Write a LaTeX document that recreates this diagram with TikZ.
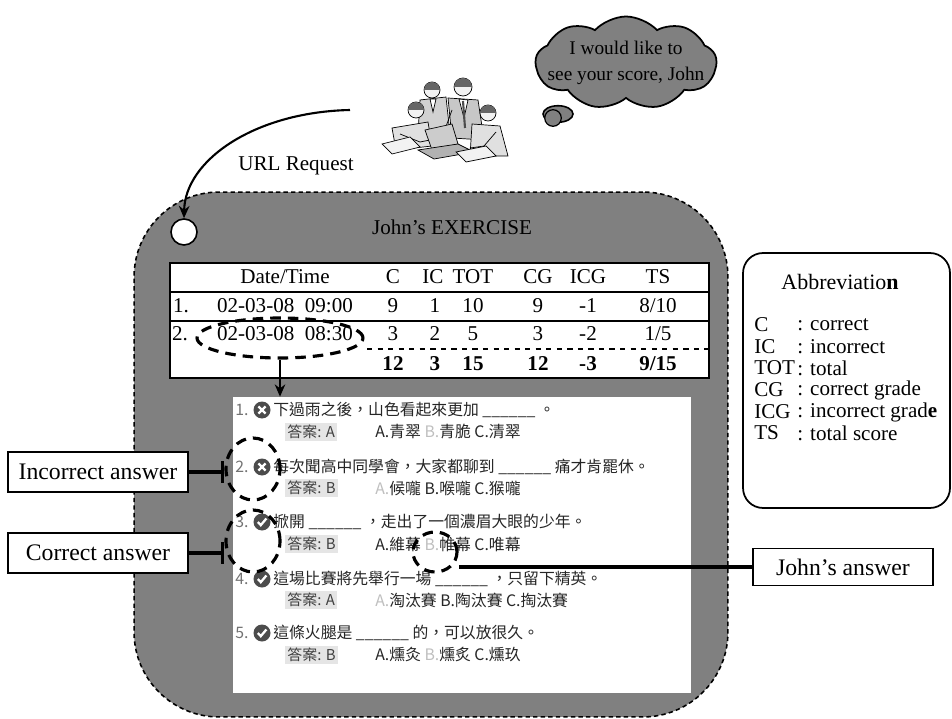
\documentclass[tikz,border=0pt]{standalone}
\usepackage{fontspec}
\setmainfont{Liberation Serif}
\newfontfamily\cjk{Noto Sans CJK TC}
\usepackage{tikz}
\usetikzlibrary{shapes.geometric,shapes.symbols,arrows.meta,positioning}

\begin{document}
\begin{tikzpicture}[x=0.02cm, y=-0.02cm,
    panel/.style={rectangle, rounded corners=1.7cm, draw=black, fill=black!50,
        dash pattern=on 2.5pt off 1.8pt, line width=0.9pt,
        minimum width=11.88cm, minimum height=10.5cm},
    cell/.style={font=\fontsize{12}{14}\selectfont, inner sep=0pt},
    sumcell/.style={font=\fontsize{12}{14}\selectfont\bfseries, inner sep=0pt},
    ring/.style={ellipse, draw=black, line width=1.8pt, dash pattern=on 6pt off 4pt, inner sep=0pt},
    tag/.style={rectangle, draw=black, fill=white, line width=0.8pt,
        minimum width=3.6cm, minimum height=0.8cm, font=\fontsize{13.5}{16}\selectfont},
    marker/.style={line width=2.4pt, -{Bar[width=12pt,line width=2pt]}},
    qtext/.style={anchor=west, font=\cjk\fontsize{9}{11}\selectfont, text=black!85, inner sep=0pt},
    qnum/.style={font=\cjk\fontsize{9}{11}\selectfont, text=black!55, inner sep=0pt},
    anslbl/.style={anchor=west, font=\cjk\fontsize{8.5}{10}\selectfont, text=black!75, fill=black!10, inner sep=1.2pt},
    xmark/.style={circle, fill=black!70, minimum size=0.34cm, inner sep=0pt,
        path picture={\draw[white, line width=1.3pt]
            (path picture bounding box.center) ++(-2pt,-2pt) -- ++(4pt,4pt)
            (path picture bounding box.center) ++(-2pt,2pt) -- ++(4pt,-4pt);}},
    okmark/.style={circle, fill=black!70, minimum size=0.34cm, inner sep=0pt,
        path picture={\draw[white, line width=1.3pt]
            (path picture bounding box.center) ++(-2.4pt,0pt) -- ++(1.7pt,-1.8pt) -- ++(3.2pt,3.8pt);}},
    legend/.style={anchor=west, inner sep=0pt, font=\fontsize{12}{14}\selectfont}
]
    \useasboundingbox (0,0) rectangle (952,719);

    % Exercise panel with the request entry point
    \node[panel] (panel) at (431,454.5) {};
    \node[font=\fontsize{12}{14}\selectfont] (title) at (452,227) {John's EXERCISE};
    \node[circle, draw=black, fill=white, line width=0.9pt, minimum size=0.52cm, inner sep=0pt] (urlin) at (184,232) {};

    % Speech cloud
    \node[cloud, cloud puffs=9, cloud puff arc=95, draw=black, fill=black!50, line width=1pt,
        minimum width=3.62cm, minimum height=1.86cm, inner sep=0pt] (bubble) at (626,63) {};
    \node[align=center, font=\fontsize{11}{15}\selectfont] (say) at (bubble) {I would like to\\see your score, John};
    \node[ellipse, draw=black, fill=black!50, line width=0.9pt, minimum width=0.6cm, minimum height=0.32cm] (puff1) at (558,114) {};
    \node[ellipse, draw=black, fill=black!50, line width=0.7pt, minimum width=0.3cm, minimum height=0.18cm] (puff2) at (553,118) {};

    % Group of people at the laptop
    \begin{scope}[line width=0.4pt]
        % man behind on the left
        \filldraw[fill=black!18] (420,100) -- (446,97) -- (450,134) -- (418,134) -- cycle;
        \filldraw[fill=white] (430,99) -- (436,99) -- (433,112) -- cycle;
        \filldraw[fill=black!5] (432,90) circle (0.16cm);
        \fill[black!60] (432,90) ++(-0.16cm,0) arc (180:0:0.16cm) -- cycle;
        % standing man with tie
        \filldraw[fill=black!22] (448,98) -- (478,100) -- (484,140) -- (452,138) -- cycle;
        \filldraw[fill=white] (459,99) -- (468,100) -- (464,118) -- cycle;
        \draw[line width=1.2pt, black!70] (463,101) -- (465,128);
        \draw (452,110) -- (444,132) -- (438,140);
        \filldraw[fill=black!5] (463,87) circle (0.18cm);
        \fill[black!60] (463,87) ++(-0.18cm,0) arc (180:0:0.18cm) -- cycle;
        % seated man on the left
        \filldraw[fill=black!12] (392,128) -- (428,122) -- (432,146) -- (396,150) -- cycle;
        \draw (400,134) -- (420,142) -- (430,140);
        \filldraw[fill=black!5] (416,110) circle (0.16cm);
        \fill[black!60] (416,110) ++(-0.16cm,0) arc (180:0:0.16cm) -- cycle;
        % seated man on the right
        \filldraw[fill=black!12] (472,124) -- (500,126) -- (508,156) -- (470,156) -- cycle;
        \draw (496,132) -- (484,146) -- (470,148);
        \filldraw[fill=black!5] (488,113) circle (0.16cm);
        \fill[black!60] (488,113) ++(-0.16cm,0) arc (180:0:0.16cm) -- cycle;
        % laptop and papers
        \filldraw[fill=black!20] (425,130) -- (452,124) -- (458,144) -- (432,150) -- cycle;
        \filldraw[fill=black!30] (418,150) -- (458,144) -- (474,152) -- (434,159) -- cycle;
        \filldraw[fill=black!5] (382,144) -- (410,137) -- (420,147) -- (392,154) -- cycle;
        \filldraw[fill=black!5] (456,152) -- (486,146) -- (496,156) -- (466,162) -- cycle;
    \end{scope}

    % URL request into the panel
    \coordinate (req) at (350,110);
    \draw[line width=1.2pt, -{Stealth[length=7pt,width=6pt]}] (req) .. controls (255,112) and (185,160) .. (urlin.north);
    \node[font=\fontsize{12}{14}\selectfont] (urllbl) at (296,166) {URL Request};

    % Score table
    \node[rectangle, draw=black, fill=white, line width=1.2pt, minimum width=10.78cm, minimum height=2.3cm] (tbl) at (439.5,320.5) {};
    \draw[line width=0.9pt] (tbl.west |- 0,292) -- (tbl.east |- 0,292);
    \draw[line width=0.9pt] (tbl.west |- 0,321) -- (tbl.east |- 0,321);
    \draw[line width=0.9pt, dashed] (367,349) -- (tbl.east |- 0,349);

    \node[cell] (hdate) at (285,277) {Date/Time};
    \node[cell] (hc) at (393,277) {C};
    \node[cell] (hic) at (433,277) {IC};
    \node[cell] (htot) at (473,277) {TOT};
    \node[cell] (hcg) at (538,277) {CG};
    \node[cell] (hicg) at (588,277) {ICG};
    \node[cell] (hts) at (658,277) {TS};

    \node[cell] (n1) at (181,306) {1.};
    \node[cell] (d1) at (285,306) {02-03-08\enspace 09:00};
    \node[cell] (n2) at (180,334) {2.};
    \node[cell] (d2) at (285,334) {02-03-08\enspace 08:30};
    \foreach \x/\a/\b/\s [count=\i] in {393/9/3/12, 435/1/2/3, 473/10/5/15, 538/9/3/12, 588/-1/-2/-3} {
        \node[cell] (r1-\i) at (\x,306) {\a};
        \node[cell] (r2-\i) at (\x,334) {\b};
        \node[sumcell] (sum-\i) at (\x,364) {\s};
    }
    \node[cell] (r1-6) at (658,306) {8/10};
    \node[cell] (r2-6) at (658,334) {1/5};
    \node[sumcell] (sum-6) at (658,364) {9/15};

    % Detail of the second attempt
    \node[rectangle, fill=white, minimum width=9.16cm, minimum height=5.92cm] (shot) at (462,545) {};
    \node[ring, minimum width=3.32cm, minimum height=0.8cm] (datering) at (280,338) {};
    \draw[line width=0.9pt, -{Stealth[length=7pt,width=6pt]}] (datering) -- (datering |- shot.north);

    \node[qnum] (num1) at (242,410) {1.};
    \node[xmark] (mk1) at (262,410) {};
    \node[qtext] (q1) at (273,410) {下過雨之後，山色看起來更加 \_\_\_\_\_\_ 。};
    \node[anslbl] (k1) at (285,432) {答案: A};
    \node[qtext] (o1) at (375,432) {A.青翠 {\color{black!25}B.}青脆 C.清翠};

    \node[qnum] (num2) at (242,467) {2.};
    \node[xmark] (mk2) at (262,467) {};
    \node[qtext] (q2) at (273,467) {每次聞高中同學會，大家都聊到 \_\_\_\_\_\_ 痛才肯罷休。};
    \node[anslbl] (k2) at (285,488) {答案: B};
    \node[qtext] (o2) at (375,488) {{\color{black!25}A.}候嚨 B.喉嚨 C.猴嚨};

    \node[qnum] (num3) at (242,522) {3.};
    \node[okmark] (mk3) at (262,522) {};
    \node[qtext] (q3) at (273,522) {掀開 \_\_\_\_\_\_ ，走出了一個濃眉大眼的少年。};
    \node[anslbl] (k3) at (285,544) {答案: B};
    \node[qtext] (o3) at (375,544) {A.維幕 {\color{black!25}B.}帷幕 C.唯幕};

    \node[qnum] (num4) at (242,579) {4.};
    \node[okmark] (mk4) at (262,579) {};
    \node[qtext] (q4) at (273,579) {這場比賽將先舉行一場 \_\_\_\_\_\_ ，只留下精英。};
    \node[anslbl] (k4) at (285,600) {答案: A};
    \node[qtext] (o4) at (375,600) {{\color{black!25}A.}淘汰賽 B.陶汰賽 C.掏汰賽};

    \node[qnum] (num5) at (242,633) {5.};
    \node[okmark] (mk5) at (262,633) {};
    \node[qtext] (q5) at (273,633) {這條火腿是 \_\_\_\_\_\_ 的，可以放很久。};
    \node[anslbl] (k5) at (285,655) {答案: B};
    \node[qtext] (o5) at (375,655) {A.燻灸 {\color{black!25}B.}燻炙 C.燻玖};

    % Marked answers and their labels
    \node[ring, minimum width=1.08cm, minimum height=1.24cm] (ring2) at (253,469) {};
    \node[ring, minimum width=1.08cm, minimum height=1.24cm] (ring3) at (253,541) {};
    \node[ring, minimum width=0.88cm, minimum height=0.8cm] (pick) at (435,552) {};

    \node[tag] (wrong) at (98,472) {Incorrect answer};
    \node[tag] (good) at (98,553) {Correct answer};
    \node[tag, minimum height=0.74cm] (janswer) at (843,567) {John's answer};
    \draw[marker] (wrong) -- (wrong -| ring2.west);
    \draw[marker] (good) -- (good -| ring3.west);
    \draw[line width=2.4pt] (janswer) -- (janswer -| pick.east);

    % Abbreviation legend
    \node[rectangle, rounded corners=0.4cm, draw=black, line width=1pt, minimum width=4.14cm, minimum height=5.1cm] (abbr) at (846.5,380.5) {};
    \node[font=\fontsize{12.5}{15}\selectfont] (abbrtitle) at (840,282) {Abbreviatio\textbf{n}};
    \foreach \k/\v/\y [count=\i] in {C/correct/325, IC/incorrect/347, TOT/total/368, CG/correct grade/390, ICG/incorrect grad\textbf{e}/412, TS/total score/433} {
        \node[legend] (ab-\i) at (754,\y) {\k};
        \node[legend] (ad-\i) at (797,\y) {: \v};
    }
\end{tikzpicture}
\end{document}
